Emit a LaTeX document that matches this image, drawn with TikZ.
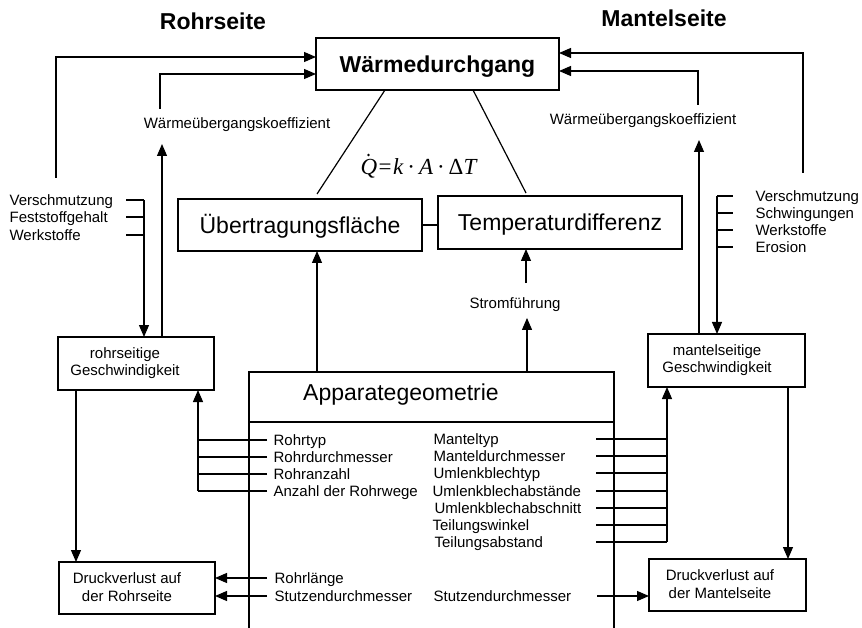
\documentclass[tikz,border=0pt]{standalone}
\usepackage{fontspec}
\setmainfont{Liberation Sans}
\newfontfamily\tmsfont{Liberation Serif}
\usetikzlibrary{arrows.meta,calc}
\begin{document}
\begin{tikzpicture}[x=1pt,y=-1pt,
  line width=1.2pt,
  >={Triangle[length=12pt,width=10pt]},
  box/.style={draw, inner sep=0pt, outer sep=0pt, anchor=north west},
  bigf/.style={font=\fontsize{23}{27}\selectfont, text height=16.5pt, text depth=0pt},
  ttl/.style={font=\fontsize{23}{27}\selectfont\bfseries, inner sep=0pt, text height=16.5pt, text depth=0pt},
  sm/.style={font=\fontsize{15}{17.5}\selectfont, inner sep=0pt, text height=10.7pt, text depth=0pt},
  smw/.style={sm, anchor=west},
  two/.style={font=\fontsize{15}{17.5}\selectfont, inner sep=0pt, align=center}
]
\useasboundingbox (0,0) rectangle (862,628);

% titles
\node[ttl] (rs) at (213,21) {Rohrseite};
\node[ttl] (ms) at (664,18) {Mantelseite};

% main boxes
\node[box, bigf, font=\fontsize{23}{27}\selectfont\bfseries, minimum width=243pt, minimum height=52pt] (W) at (316,38) {Wärmedurchgang};
\node[box, bigf, minimum width=244pt, minimum height=52pt] (U) at (178,199) {Übertragungsfläche};
\node[box, bigf, minimum width=244pt, minimum height=53pt] (T) at (438,196) {Temperaturdifferenz};
\node[font=\fontsize{23}{27}\selectfont\tmsfont, inner sep=0pt, anchor=base west] (Q) at (360,175)
  {\itshape Q\kern1.5pt\upshape=\kern1.5pt\itshape k\kern4pt\upshape·\kern4pt\itshape A\kern4pt\upshape·\kern4pt Δ\itshape T};
\fill ($(Q.base west)+(8.5,-20)$) circle (1.4pt);

% Apparategeometrie (open box)
\node[inner sep=0pt, outer sep=0pt, anchor=north west, minimum width=365pt, minimum height=256pt] (A) at (249,372) {};
\draw (A.south west) -- (A.north west) -- (A.north east) -- (A.south east);
\draw ($(A.north west)+(0,50)$) -- ($(A.north east)+(0,50)$);
\node[bigf, inner sep=0pt] (AT) at (401,392) {Apparategeometrie};

% side boxes
\node[box, minimum width=156pt, minimum height=53pt] (RG) at (58,337) {};
\node[two] (RGt) at (125,363) {rohrseitige\\Geschwindigkeit};
\node[box, minimum width=157pt, minimum height=53pt] (MG) at (648,334) {};
\node[two] (MGt) at (717,360) {mantelseitige\\Geschwindigkeit};
\node[box, minimum width=156pt, minimum height=52pt] (RD) at (59,562) {};
\node[two] (RDt) at (127,587) {Druckverlust auf\\der Rohrseite};
\node[box, minimum width=157pt, minimum height=52pt] (MD) at (649,559) {};
\node[two] (MDt) at (720,584) {Druckverlust auf\\der Mantelseite};

% small labels
\node[sm] (wkl) at (237,123) {Wärmeübergangskoeffizient};
\node[sm] (wkr) at (643,119) {Wärmeübergangskoeffizient};
\node[sm] (sf) at (515,303) {Stromführung};

\node[smw] (lv1) at (9,200) {Verschmutzung};
\node[smw] (lv2) at (9,217) {Feststoffgehalt};
\node[smw] (lv3) at (9,235) {Werkstoffe};

\node[smw] (rv1) at (755,196) {Verschmutzung};
\node[smw] (rv2) at (755,213) {Schwingungen};
\node[smw] (rv3) at (755,230) {Werkstoffe};
\node[smw] (rv4) at (755,247) {Erosion};

\node[smw] (p1) at (273,440) {Rohrtyp};
\node[smw] (p2) at (273,457) {Rohrdurchmesser};
\node[smw] (p3) at (273,474) {Rohranzahl};
\node[smw] (p4) at (273,491) {Anzahl der Rohrwege};

\node[smw] (m1) at (433,439) {Manteltyp};
\node[smw] (m2) at (433,456) {Manteldurchmesser};
\node[smw] (m3) at (433,473) {Umlenkblechtyp};
\node[smw] (m4) at (432,491) {Umlenkblechabstände};
\node[smw] (m5) at (434,508) {Umlenkblechabschnitt};
\node[smw] (m6) at (432,525) {Teilungswinkel};
\node[smw] (m7) at (434,542) {Teilungsabstand};

\node[smw] (rl) at (274,578) {Rohrlänge};
\node[smw] (sd1) at (274,596) {Stutzendurchmesser};
\node[smw] (sd2) at (433,596) {Stutzendurchmesser};

% free-end coordinates
\coordinate (l1) at (56,178);
\coordinate (l2) at (160,109);
\coordinate (l3) at (162,144);
\coordinate (r1) at (803,173);
\coordinate (r2) at (698,105);
\coordinate (r3) at (699,140);

% top feedback arrows
\draw[->] (l1) |- ($(W.north west)+(0,19)$);
\draw[->] (l2) |- ($(W.north west)+(0,36)$);
\draw[->] (r1) |- ($(W.north east)+(0,15)$);
\draw[->] (r2) |- ($(W.north east)+(0,33)$);

% Waermeuebergang arrows
\draw[->] ($(RG.north west)+(104,0)$) -- (l3);
\draw[->] ($(MG.north west)+(51,0)$) -- (r3);

% left bracket
\foreach \n in {lv1,lv2,lv3} \draw ($(\n.west)+(117,0)$) -- ($(\n.west)+(135,0)$);
\draw[->] ($(lv1.west)+(135,0)$) -- ($(RG.north west)+(86,0)$);
% right bracket
\foreach \n in {rv1,rv2,rv3,rv4} \draw ($(rv1.west |- \n.west)+(-38,0)$) -- ($(rv1.west |- \n.west)+(-22,0)$);
\draw[->] ($(rv1.west)+(-38,0)$) -- ($(MG.north west)+(69,0)$);

% formula triangle
\draw ($(W.south west)+(69,0)$) -- ($(U.north west)+(139,-5)$);
\draw ($(W.south west)+(157,0)$) -- ($(T.north west)+(88,-3)$);
\draw (U.east) -- (U.east -| T.west);

% Apparategeometrie upward
\draw[->] ($(A.north west)+(68,0)$) -- ($(U.south west)+(139,0)$);
\draw[->] ($(A.north west)+(278,0)$) -- ($(sf.south)+(12,9)$);
\draw[->] ($(sf.north)+(11,-14)$) -- ($(T.south west)+(88,0)$);

% velocity to pressure drop
\draw[->] ($(RG.south west)+(18,0)$) -- ($(RD.north west)+(17,0)$);
\draw[->] ($(MG.south west)+(140,0)$) -- ($(MD.north west)+(139,0)$);

% left parameter list
\foreach \n in {p1,p2,p3,p4} \draw ($(\n.west)+(-6,0)$) -- ($(\n.west)+(-75,0)$);
\draw[->] ($(p4.west)+(-75,0)$) -- ($(RG.south west)+(140,0)$);
% right parameter list
\foreach \n in {m1,m2,m3,m4,m5,m6,m7} \draw ($(m1.west |- \n.west)+(163,0)$) -- ($(m1.west |- \n.west)+(234,0)$);
\draw[->] ($(m7.west)+(233,0)$) -- ($(MG.south west)+(19,0)$);

% pressure-drop inputs
\draw[->] ($(rl.west)+(-7,0)$) -- (rl.west -| RD.east);
\draw[->] ($(sd1.west)+(-7,0)$) -- (sd1.west -| RD.east);
\draw[->] ($(sd2.west)+(164,0)$) -- (sd2.west -| MD.west);
\end{tikzpicture}
\end{document}
